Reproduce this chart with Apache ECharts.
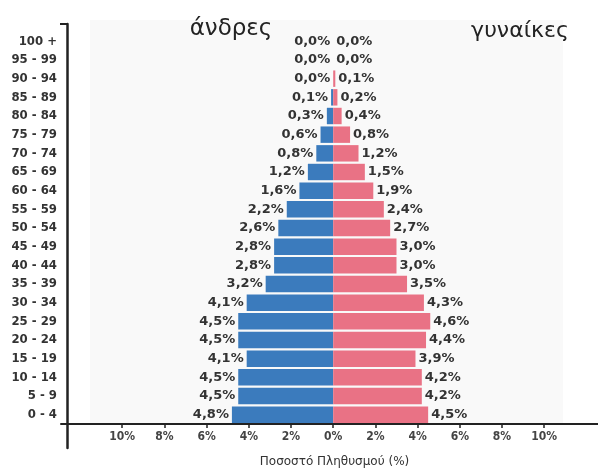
<!DOCTYPE html>
<html>
<head>
<meta charset="utf-8">
<script src="https://cdn.jsdelivr.net/npm/echarts@6/dist/echarts.min.js"></script>
<style>html,body{margin:0;padding:0;background:#fff;}#c{width:598px;height:470px;}</style>
</head>
<body>
<div id="c"></div>
<script>
const ageGroups = ['0 - 4','5 - 9','10 - 14','15 - 19','20 - 24','25 - 29','30 - 34','35 - 39','40 - 44','45 - 49','50 - 54','55 - 59','60 - 64','65 - 69','70 - 74','75 - 79','80 - 84','85 - 89','90 - 94','95 - 99','100 +'];
const men = [4.8,4.5,4.5,4.1,4.5,4.5,4.1,3.2,2.8,2.8,2.6,2.2,1.6,1.2,0.8,0.6,0.3,0.1,0.0,0.0,0.0];
const women = [4.5,4.2,4.2,3.9,4.4,4.6,4.3,3.5,3.0,3.0,2.7,2.4,1.9,1.5,1.2,0.8,0.4,0.2,0.1,0.0,0.0];
const xTicks = [-10,-8,-6,-4,-2,0,2,4,6,8,10];
const titleMen = 'άνδρες';
const titleWomen = 'γυναίκες';
const xName = 'Ποσοστό Πληθυσμού (%)';

const fmt = v => Math.abs(v).toFixed(1).replace('.', ',') + '%';
const chart = echarts.init(document.getElementById('c'), null, {renderer:'canvas'});
const font = 'DejaVu Sans';
chart.setOption({
  animation:false,
  backgroundColor:'#ffffff',
  grid:[
    {left:61, right:0, top:32, bottom:46, containLabel:false, outerBoundsMode:'none'},
    {left:67, right:0, top:24, bottom:22, containLabel:false, outerBoundsMode:'none'},
    {left:90, right:35, top:20, bottom:47, show:true, backgroundColor:'#f9f9f9', borderWidth:0, outerBoundsMode:'none'}
  ],
  xAxis:[
    {gridIndex:0, type:'value', min:-12.9, max:12.55,
     axisLine:{show:true, lineStyle:{color:'#222', width:2}},
     axisTick:{show:true, customValues:xTicks, length:4, lineStyle:{color:'#222', width:1.5}},
     axisLabel:{customValues:xTicks, formatter:v=>Math.abs(v)+'%', color:'#444', fontFamily:'DejaVu Sans Condensed', fontWeight:'bold', fontSize:12, margin:7},
     splitLine:{show:false},
     name:xName, nameLocation:'middle', nameGap:32,
     nameTextStyle:{color:'#333', fontFamily:font, fontSize:12, padding:[0,0,0,10]}
    },
    {gridIndex:1, type:'value', show:false},
    {gridIndex:2, type:'value', show:false}
  ],
  yAxis:[
    {gridIndex:0, type:'category', data:ageGroups,
     axisLine:{show:false}, axisTick:{show:false},
     axisLabel:{color:'#333', fontFamily:'DejaVu Sans Condensed', fontWeight:'bold', fontSize:13, margin:4}
    },
    {gridIndex:1, type:'value', min:0, max:1,
     axisLine:{show:true, lineStyle:{color:'#222', width:2.5}},
     axisTick:{show:false}, axisLabel:{show:false}, splitLine:{show:false}
    },
    {gridIndex:2, type:'value', show:false}
  ],
  series:[
    {type:'bar', name:titleMen, xAxisIndex:0, yAxisIndex:0,
     data:men.map(v=>-v), barGap:'-100%', barCategoryGap:'12%',
     itemStyle:{color:'#3b7bbd'},
     label:{show:true, position:'left', distance:3, formatter:p=>fmt(p.value),
            color:'#333', fontFamily:font, fontWeight:'bold', fontSize:13}
    },
    {type:'bar', name:titleWomen, xAxisIndex:0, yAxisIndex:0,
     data:women, barGap:'-100%', barCategoryGap:'12%',
     itemStyle:{color:'#e97285'},
     label:{show:true, position:'right', distance:3, formatter:p=>fmt(p.value),
            color:'#333', fontFamily:font, fontWeight:'bold', fontSize:13}
    }
  ],
  graphic:[
    {type:'line', shape:{x1:60, y1:24, x2:67, y2:24}, style:{stroke:'#222', lineWidth:2}},
    {type:'text', x:231, y:29, style:{text:titleMen, font:'23px "DejaVu Sans"', fill:'#222', textAlign:'center', textVerticalAlign:'middle'}},
    {type:'text', x:520, y:31, style:{text:titleWomen, font:'22px "DejaVu Sans"', fill:'#222', textAlign:'center', textVerticalAlign:'middle'}}
  ]
});
</script>
</body>
</html>
